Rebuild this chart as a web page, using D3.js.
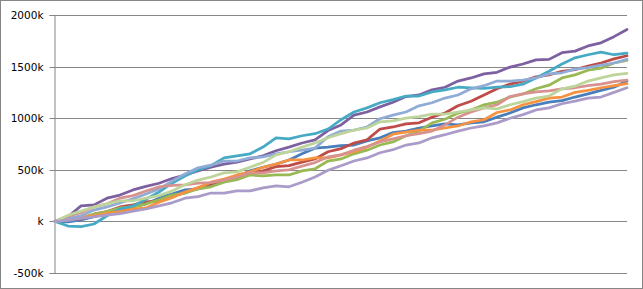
<!DOCTYPE html>
<html><head><meta charset="utf-8">
<script src="https://cdn.jsdelivr.net/npm/d3@7"></script>
<style>html,body{margin:0;padding:0;background:#fff;}svg{display:block;}</style>
</head><body>
<svg id="chart" width="643" height="289"></svg>
<script>
// Values in thousands (k)
const yTicks = [-500, 0, 500, 1000, 1500, 2000];
const seriesNames = ["S1","S2","S3","S4","S5","S6","S7","S8","S9","S10"];
const seriesColors = ["#4A7EBB","#BE4B48","#98B954","#7D60A0","#46AAC5","#F69240","#8FABD6","#D7928F","#BDD59B","#AA9BC8"];
const s1 = [0,-5,15,45,80,110,140,170,225,265,305,315,345,385,430,490,525,555,595,655,710,720,735,740,780,810,860,875,905,925,945,935,955,965,1010,1050,1100,1130,1155,1170,1205,1235,1270,1300,1360];
const s2 = [0,15,25,70,95,140,160,190,200,245,275,325,365,400,420,470,490,530,540,575,605,675,705,760,790,895,915,945,955,1010,1050,1120,1165,1225,1285,1330,1360,1400,1420,1455,1470,1505,1535,1575,1605];
const s3 = [0,20,35,70,95,130,140,170,210,255,275,315,335,380,405,450,440,450,450,490,510,585,605,655,690,740,770,830,875,955,990,1050,1080,1130,1155,1205,1235,1285,1320,1390,1420,1465,1485,1535,1560];
const s4 = [0,45,150,160,225,255,305,340,370,415,450,490,525,555,575,605,635,685,720,760,790,880,935,1030,1060,1110,1155,1210,1225,1275,1300,1360,1390,1430,1445,1495,1525,1565,1570,1635,1650,1700,1730,1790,1860];
const s5 = [0,-45,-50,-25,55,120,150,215,285,370,440,500,540,615,635,655,720,810,800,830,850,895,985,1060,1100,1150,1180,1215,1215,1255,1275,1300,1295,1290,1300,1305,1330,1390,1455,1525,1585,1615,1640,1615,1630];
const s6 = [0,15,40,55,80,95,120,130,185,230,285,325,380,410,450,480,525,555,595,595,615,615,645,675,720,780,845,865,885,885,905,925,965,985,1055,1080,1130,1160,1195,1205,1250,1270,1295,1315,1335];
const s7 = [0,30,55,110,140,180,220,265,315,390,460,520,545,585,585,615,625,655,675,690,710,820,875,885,915,995,1030,1060,1120,1150,1195,1225,1285,1315,1360,1360,1370,1390,1430,1440,1475,1490,1515,1535,1570];
const s8 = [0,50,85,140,170,225,250,295,335,350,355,370,375,400,430,470,470,490,500,535,570,625,645,690,725,770,800,830,850,875,935,1010,1060,1100,1130,1210,1235,1255,1265,1285,1295,1315,1330,1355,1370];
const s9 = [0,60,100,140,170,200,200,225,250,295,355,400,430,470,480,525,570,645,675,720,760,810,850,885,905,965,975,1000,1015,1040,1040,1060,1080,1100,1090,1130,1160,1195,1215,1285,1310,1360,1390,1420,1435];
const s10 = [0,10,30,45,60,75,100,120,150,180,225,240,275,275,295,295,325,345,335,380,430,495,540,585,615,665,695,740,760,810,840,875,905,925,955,1000,1035,1080,1100,1140,1165,1195,1205,1250,1295];
const allSeries = [s1,s2,s3,s4,s5,s6,s7,s8,s9,s10];

(function(){
const svg = d3.select("#chart");
const W = 643, H = 289;
const pL = 54, pR = 627, pT = 15, pB = 273;

svg.append("rect").attr("x",0.5).attr("y",0.5).attr("width",W-1).attr("height",H-1)
  .attr("fill","#fff").attr("stroke","#868686").attr("stroke-width",1);

const y = d3.scaleLinear().domain([-500,2000]).range([pB, pT]);
const x = d3.scaleLinear().domain([0, s1.length-1]).range([pL+1, pR]);

// gridlines
svg.append("g").selectAll("line").data(yTicks).join("line")
  .attr("x1", pL).attr("x2", pR)
  .attr("y1", d => Math.round(y(d))+0.5).attr("y2", d => Math.round(y(d))+0.5)
  .attr("stroke","#868686").attr("stroke-width",1);

// y axis
const yAxis = d3.axisLeft(y).tickValues(yTicks).tickSize(5).tickPadding(6)
  .tickFormat(d => (d === 0 ? "" : d) + "k");
const ag = svg.append("g").attr("transform",`translate(${pL+0.5},0)`).call(yAxis);
ag.select(".domain").attr("stroke","#868686");
ag.selectAll(".tick line").attr("stroke","#868686");
ag.selectAll(".tick").attr("transform", d => `translate(0,${Math.round(y(d))+0.5})`);
ag.selectAll("text").attr("font-family","'DejaVu Sans', Verdana, sans-serif")
  .attr("font-size","10.5px").attr("fill","#000");

const line = d3.line().x((d,i) => x(i)).y(d => y(d));
svg.append("g").selectAll("path").data(allSeries).join("path")
  .attr("d", line).attr("fill","none")
  .attr("stroke",(d,i) => seriesColors[i]).attr("stroke-width",2.75)
  .attr("stroke-linejoin","round").attr("stroke-linecap","round");
})();
</script>
</body></html>
